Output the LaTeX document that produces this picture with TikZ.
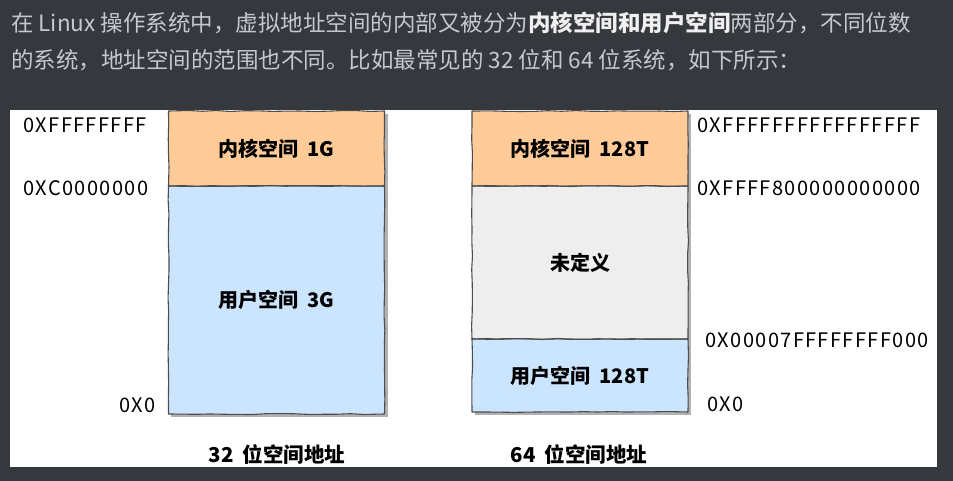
\documentclass[tikz,border=0pt]{standalone}
\usepackage{fontspec}
\setmainfont{Noto Sans CJK SC}
\usetikzlibrary{decorations.pathmorphing}
\definecolor{pagebg}{HTML}{35383D}
\definecolor{prose}{HTML}{C5C8CC}
\definecolor{prosebold}{HTML}{F0F0F0}
\definecolor{kernelc}{HTML}{FFCC99}
\definecolor{userc}{HTML}{CCE5FF}
\definecolor{undefc}{HTML}{EEEEEE}
\definecolor{edgec}{HTML}{4D4D4D}
\newcommand{\gapsp}{\hspace{0.45em}}
\tikzset{
  memblock/.style={draw=none, inner sep=0pt, outer sep=0pt,
    minimum width=216pt, font=\fontsize{20}{22}\selectfont\bfseries, text=black},
  sketchedge/.style={draw=edgec, line width=1.1pt, line join=round,
    decorate, decoration={random steps, segment length=14pt, amplitude=0.5pt}},
  shadowbox/.style={fill=black!30, draw=none},
  addr/.style={font=\fontsize{20}{22}\selectfont\addfontfeature{LetterSpace=7}, text=black, inner sep=0pt},
  caption/.style={font=\fontsize{20.5}{22}\selectfont\bfseries, text=black, inner sep=0pt},
  proseline/.style={font=\fontsize{22.5}{26}\selectfont, text=prose, anchor=west, inner sep=0pt},
}
\begin{document}
\begin{tikzpicture}[x=1pt,y=-1pt]
\pgfmathsetseed{7}
\useasboundingbox (0,0) rectangle (953,481);
\fill[pagebg] (0,0) rectangle (953,481);
\fill[white] (10,110) rectangle (937,467);

% prose
\node[proseline] (l1) at (11,23) {在 Linux 操作系统中，虚拟地址空间的内部又被分为{\bfseries\color{prosebold}内核空间和用户空间}两部分，不同位数};
\node[proseline] (l2) at (11,60) {的系统，地址空间的范围也不同。比如最常见的 32 位和 64 位系统，如下所示：};

% shadows
\fill[shadowbox] (171,114) rectangle (388,417);
\fill[shadowbox] (475,114) rectangle (691,415);

% 32-bit
\node[memblock, fill=kernelc, minimum height=75pt] (k32) at (276.5,148.5) {\raisebox{-3pt}{内核空间\gapsp 1G}};
\node[memblock, fill=userc, minimum height=228pt] (u32) at (276.5,300) {\raisebox{-1pt}{用户空间\gapsp 3G}};
\draw[sketchedge] (k32.north west) rectangle (k32.south east);
\draw[sketchedge] (u32.north west) rectangle (u32.south east);

% 64-bit
\node[memblock, fill=kernelc, minimum height=75pt] (k64) at (580,148.5) {\raisebox{-3pt}{内核空间\gapsp 128T}};
\node[memblock, fill=undefc, minimum height=153pt] (n64) at (580,262.5) {\raisebox{-2.5pt}{未定义}};
\node[memblock, fill=userc, minimum height=73pt] (u64) at (580,375.5) {\raisebox{-2.5pt}{用户空间\gapsp 128T}};
\draw[sketchedge] (k64.north west) rectangle (k64.south east);
\draw[sketchedge] (n64.north west) rectangle (n64.south east);
\draw[sketchedge] (u64.north west) rectangle (u64.south east);

% addresses
\node[addr, anchor=west] (a1) at (23,125) {0XFFFFFFFF};
\node[addr, anchor=west] (a2) at (23,188) {0XC0000000};
\node[addr, anchor=east] (a3) at (156,405) {0X0};
\node[addr, anchor=west] (b1) at (697,125) {0XFFFFFFFFFFFFFFFF};
\node[addr, anchor=west] (b2) at (697,188) {0XFFFF800000000000};
\node[addr, anchor=west] (b3) at (705,340) {0X00007FFFFFFFF000};
\node[addr, anchor=west] (b4) at (707,404) {0X0};

% captions
\node[caption] (c32) at (277,455) {32\gapsp 位空间地址};
\node[caption] (c64) at (579,455) {64\gapsp 位空间地址};
\end{tikzpicture}
\end{document}
